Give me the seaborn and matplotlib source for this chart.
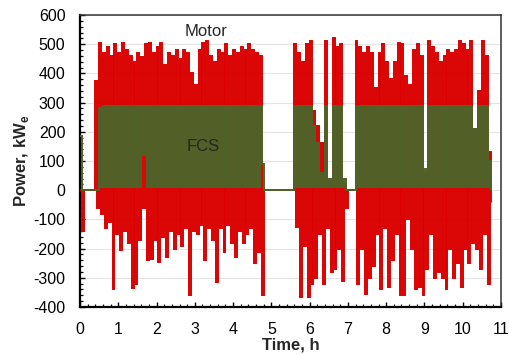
import numpy as np
import pandas as pd
import matplotlib
matplotlib.use("Agg")
import matplotlib.pyplot as plt
from matplotlib.ticker import MultipleLocator
import seaborn as sns

time_h = np.round(np.arange(0, 108) * 0.1, 2)   # 0.0 .. 10.7 h

# motor power: upper peaks and lower troughs in each 0.1 h slot (kW)
motor_peak = [
    0, 0, 0, 0, 375, 505, 470, 490, 460, 500,
    470, 505, 480, 460, 440, 470, 455, 500, 505, 470,
    490, 505, 430, 470, 460, 480, 450, 480, 470, 400,
    360, 480, 505, 510, 460, 440, 480, 470, 500, 460,
    480, 470, 490, 480, 500, 480, 470, 460, 0, 0,
    0, 0, 0, 0, 0, 0, 500, 470, 440, 500,
    510, 270, 220, 160, 510, 30, 520, 490, 500, 20,
    0, 0, 510, 490, 470, 490, 470, 350, 470, 500,
    440, 380, 440, 505, 500, 390, 360, 480, 500, 460,
    60, 510, 490, 470, 440, 460, 480, 470, 480, 510,
    500, 480, 510, 210, 340, 510, 460, 130,
]
motor_trough = [
    -140, 0, 0, 0, -60, -80, -130, -110, -340, -150,
    -205, -140, -180, -335, -320, -170, -60, -240, -235, -170,
    -245, -160, -230, -140, -200, -150, -190, -130, -360, -140,
    -150, -120, -240, -130, -170, -315, -130, -210, -120, -180,
    -230, -140, -180, -150, -130, -250, -210, -360, 0, 0,
    0, 0, 0, 0, 0, 0, -126, -365, -190, -365,
    -320, -300, -150, -320, -130, -280, -270, -200, -310, -60,
    0, 0, -320, -200, -354, -300, -260, -150, -340, -130,
    -330, -240, -150, -360, -360, -100, -200, -340, -330, -360,
    -270, -150, -300, -280, -300, -340, -200, -300, -250, -330,
    -200, -250, -180, -200, -270, -150, -320, -40,
]

# fuel-cell system power: upper and lower level in each 0.1 h slot (kW)
fcs_peak = [
    185, 0, 0, 0, 0, 280, 290, 290, 290, 290,
    290, 290, 290, 290, 290, 290, 290, 290, 290, 290,
    290, 290, 290, 290, 290, 290, 290, 290, 290, 290,
    290, 290, 290, 290, 290, 290, 290, 290, 290, 290,
    290, 290, 290, 290, 290, 290, 290, 290, 0, 0,
    0, 0, 0, 0, 0, 0, 290, 290, 290, 290,
    290, 220, 160, 60, 290, 40, 290, 290, 290, 40,
    0, 0, 290, 290, 290, 290, 290, 290, 290, 290,
    290, 290, 290, 290, 290, 290, 290, 290, 290, 290,
    74, 290, 290, 290, 290, 290, 290, 290, 290, 290,
    290, 290, 290, 210, 290, 290, 290, 100,
]
fcs_low = [
    0, 0, 0, 0, 0, 12, 12, 12, 12, 12,
    12, 12, 12, 12, 12, 12, 120, 12, 12, 12,
    12, 12, 12, 12, 12, 12, 12, 12, 12, 12,
    12, 12, 12, 12, 12, 12, 12, 12, 12, 12,
    12, 12, 12, 12, 12, 12, 12, 90, 0, 0,
    0, 0, 0, 0, 0, 0, 12, 12, 12, 12,
    12, 12, 12, 12, 12, 10, 12, 12, 12, 0,
    0, 0, 12, 12, 12, 12, 12, 12, 12, 12,
    12, 12, 12, 12, 12, 12, 12, 12, 12, 12,
    12, 12, 12, 12, 12, 12, 12, 12, 12, 12,
    12, 12, 12, 12, 12, 12, 12, 0,
]

x_ticks = list(range(0, 12))
y_ticks = list(range(-400, 601, 100))

# ---- build interleaved (peak, trough) series = dense signal ----
half = 0.05
t_int = np.ravel(np.column_stack([time_h, time_h + half]))
motor_int = np.ravel(np.column_stack([motor_peak, motor_trough]))
fcs_int = np.ravel(np.column_stack([fcs_peak, fcs_low]))
df = pd.DataFrame({"t": t_int, "motor": motor_int, "fcs": fcs_int})

# ---- style ----
sns.set_style("ticks")
plt.rcParams["font.family"] = ["Liberation Sans", "DejaVu Sans"]
plt.rcParams["mathtext.fontset"] = "custom"
plt.rcParams["mathtext.rm"] = "Liberation Sans"
plt.rcParams["mathtext.bf"] = "Liberation Sans:bold"
plt.rcParams["axes.unicode_minus"] = False

fig = plt.figure(figsize=(5.09, 3.55), dpi=100)
ax = fig.add_axes([80 / 509, 48 / 355, 421 / 509, 292 / 355])

RED = "#DA0000"
GREEN = "#4F6228"
LW = 1.4

sns.lineplot(data=df, x="t", y="motor", ax=ax, color=RED, linewidth=LW,
             drawstyle="steps-post", estimator=None, sort=False, zorder=3)
sns.lineplot(data=df, x="t", y="fcs", ax=ax, color=GREEN, linewidth=LW,
             drawstyle="steps-post", estimator=None, sort=False, zorder=4)
for ln in ax.lines:
    ln.set_linewidth(LW)
    ln.set_solid_joinstyle("miter")

ax.set_xlim(0, 11)
ax.set_ylim(-400, 600)
ax.set_xticks(x_ticks)
ax.set_yticks(y_ticks)
ax.xaxis.set_minor_locator(MultipleLocator(0.2))
ax.yaxis.set_minor_locator(MultipleLocator(20))
ax.tick_params(axis="both", which="both", direction="in", colors="black",
               labelsize=11.5, pad=10.5)
ax.tick_params(which="major", length=3.5, width=1.0)
ax.tick_params(which="minor", length=2.5, width=0.9)

ax.set_axisbelow(True)
ax.yaxis.grid(True, color="#E4E4E4", lw=0.8)
ax.xaxis.grid(False)

for side in ["left", "bottom"]:
    ax.spines[side].set_color("black")
    ax.spines[side].set_linewidth(1.6)
for side in ["top", "right"]:
    ax.spines[side].set_visible(True)
    ax.spines[side].set_color("#333333")
    ax.spines[side].set_linewidth(1.1)

ax.set_xlabel("Time, h", fontsize=12, fontweight="bold")
ax.set_ylabel(r"Power, kW$_\mathbf{e}$", fontsize=12, fontweight="bold")
ax.xaxis.set_label_coords(0.5, -0.105)
ax.yaxis.set_label_coords(-0.117, 0.5)

ax.text(3.29, 545, "Motor", fontsize=12, ha="center", va="center", zorder=6)
ax.text(3.22, 149, "FCS", fontsize=12, ha="center", va="center", zorder=6)

fig.savefig("out.png", dpi=100)
